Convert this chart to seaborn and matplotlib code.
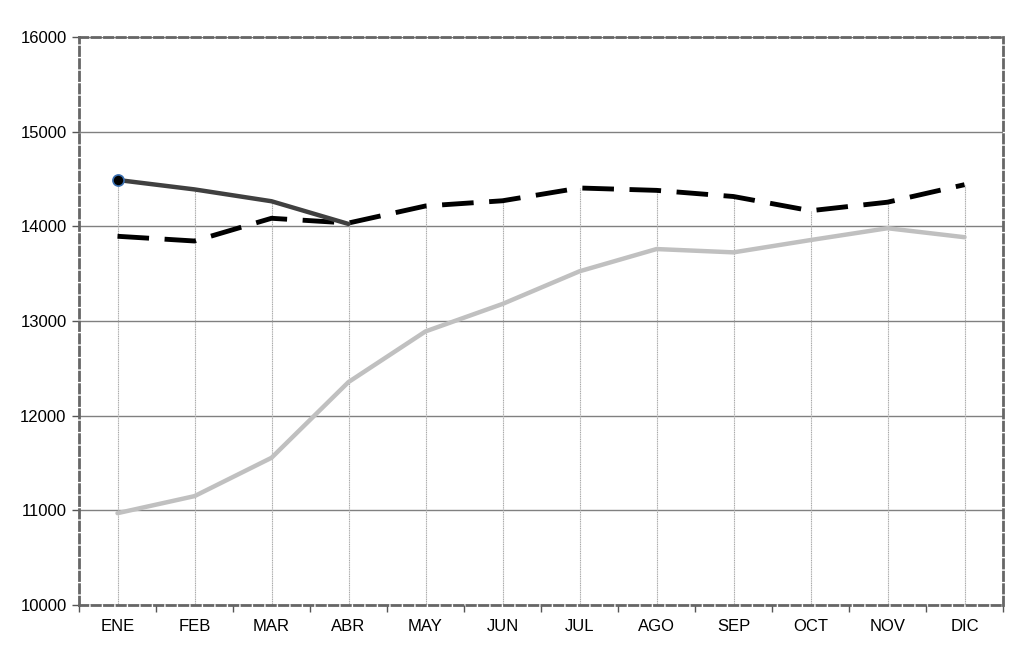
import numpy as np
import pandas as pd
import matplotlib
matplotlib.use("Agg")
import matplotlib.pyplot as plt
from matplotlib.ticker import FixedLocator, NullFormatter
import seaborn as sns

# Data
months = ["ENE", "FEB", "MAR", "ABR", "MAY", "JUN", "JUL", "AGO", "SEP", "OCT", "NOV", "DIC"]
serie_actual = [14490, 14390, 14265, 14025]
serie_anterior = [13895, 13845, 14085, 14035, 14215, 14270, 14405, 14380, 14315, 14165, 14255, 14440]
serie_base = [10970, 11150, 11555, 12355, 12890, 13180, 13525, 13760, 13725, 13855, 13980, 13885]

sns.set_theme(style="white")
plt.rcParams["font.family"] = ["Liberation Sans", "DejaVu Sans"]

fig = plt.figure(figsize=(10.23, 6.69), dpi=100)
ax = fig.add_axes([79 / 1023, 1 - 605 / 669, 924 / 1023, 568 / 669])

x_all = np.arange(len(months))

# drop lines from the axis floor up to the highest series at each month
df = pd.DataFrame({"anterior": serie_anterior, "base": serie_base})
df["actual"] = pd.Series(serie_actual)
tops = df.max(axis=1).values
ax.vlines(x_all, 10000, tops, color="#a8a8a8", linewidth=0.8,
          linestyle=(0, (1, 0.6)), zorder=2)

sns.lineplot(x=x_all, y=serie_base, ax=ax, color="#c0c0c0", linewidth=3.2, zorder=3)
line = sns.lineplot(x=x_all, y=serie_anterior, ax=ax, color="black", linewidth=3.5,
                    linestyle=(0, (6.5, 3.2)), zorder=4)
sns.lineplot(x=x_all[:len(serie_actual)], y=serie_actual, ax=ax, color="#404040",
             linewidth=3.2, zorder=5)
ax.plot(x_all[0], serie_actual[0], marker="o", markersize=8, markerfacecolor="black",
        markeredgecolor="#3a6fb0", markeredgewidth=1.2, linestyle="none", zorder=6)

ax.set_xlim(-0.5, len(months) - 0.5)
ax.set_ylim(10000, 16000)
ax.set_yticks(np.arange(10000, 16001, 1000))
ax.set_xticks(x_all)
ax.set_xticklabels(months)
ax.xaxis.set_minor_locator(FixedLocator(np.arange(-0.5, len(months), 1)))
ax.xaxis.set_minor_formatter(NullFormatter())
ax.tick_params(axis="x", which="major", length=0, pad=10, labelsize=12, colors="black")
ax.tick_params(axis="x", which="minor", length=5, width=1, color="#555555", bottom=True)
ax.tick_params(axis="y", length=5, width=1, color="#555555", left=True, labelsize=12,
               labelcolor="black", pad=4)

ax.grid(axis="y", color="#808080", linewidth=1, zorder=1)
ax.grid(axis="x", visible=False)
ax.set_axisbelow(True)

for side in ["left", "right", "top", "bottom"]:
    ax.spines[side].set_visible(True)
    ax.spines[side].set_color("#666666")
    ax.spines[side].set_linewidth(2)
    ax.spines[side].set_linestyle((0, (3, 1.5)))

ax.set_xlabel("")
ax.set_ylabel("")

fig.savefig("out.png", dpi=100)
